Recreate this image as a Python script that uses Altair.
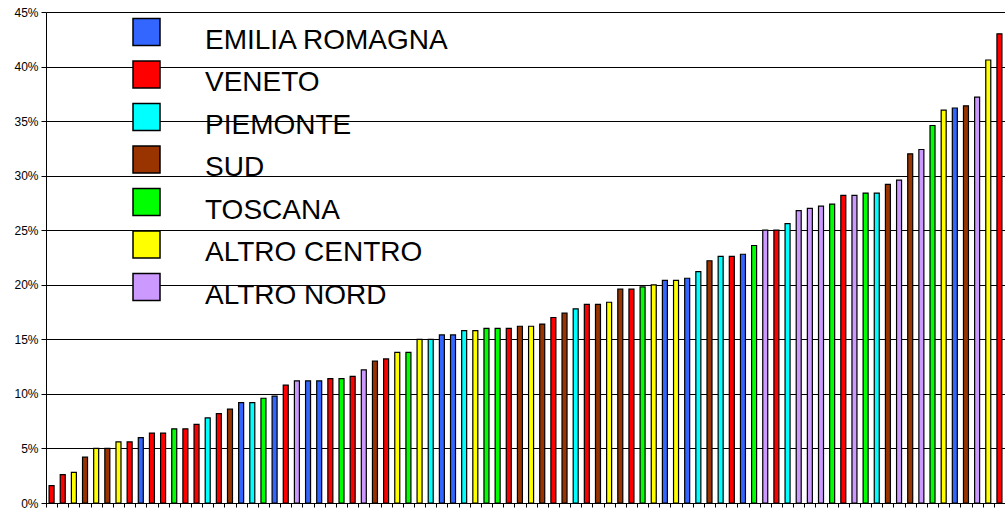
import altair as alt
import pandas as pd

# Legend order and colours
legend_names = ["EMILIA ROMAGNA", "VENETO", "PIEMONTE", "SUD", "TOSCANA", "ALTRO CENTRO", "ALTRO NORD"]
legend_colors = ["#3366FF", "#FF0000", "#00FFFF", "#993300", "#00FF00", "#FFFF00", "#CC99FF"]

# Region code of each bar (left to right)
code_names = {"E": "EMILIA ROMAGNA", "V": "VENETO", "P": "PIEMONTE", "S": "SUD",
              "T": "TOSCANA", "C": "ALTRO CENTRO", "N": "ALTRO NORD"}
bar_codes = [
    "V", "V", "C", "S", "C", "S", "C", "V", "E", "V",
    "V", "T", "V", "V", "P", "V", "S", "E", "P", "T",
    "E", "V", "N", "E", "E", "V", "T", "V", "N", "S",
    "V", "C", "T", "C", "P", "E", "E", "P", "C", "T",
    "T", "V", "S", "C", "S", "V", "S", "P", "V", "S",
    "C", "S", "V", "T", "C", "E", "C", "E", "P", "S",
    "P", "V", "E", "T", "N", "V", "P", "N", "N", "N",
    "T", "V", "N", "T", "P", "S", "N", "S", "N", "T",
    "C", "E", "S", "N", "C", "V",
]
# Bar values in percent
bar_values = [
    1.6, 2.6, 2.8, 4.2, 5.0, 5.0, 5.6, 5.6, 6.0, 6.4,
    6.4, 6.8, 6.8, 7.2, 7.8, 8.2, 8.6, 9.2, 9.2, 9.6,
    9.8, 10.8, 11.2, 11.2, 11.2, 11.4, 11.4, 11.6, 12.2, 13.0,
    13.2, 13.8, 13.8, 15.0, 15.0, 15.4, 15.4, 15.8, 15.8, 16.0,
    16.0, 16.0, 16.2, 16.2, 16.4, 17.0, 17.4, 17.8, 18.2, 18.2,
    18.4, 19.6, 19.6, 19.8, 20.0, 20.4, 20.4, 20.6, 21.2, 22.2,
    22.6, 22.6, 22.8, 23.6, 25.0, 25.0, 25.6, 26.8, 27.0, 27.2,
    27.4, 28.2, 28.2, 28.4, 28.4, 29.2, 29.6, 32.0, 32.4, 34.6,
    36.0, 36.2, 36.4, 37.2, 40.6, 43.0,
]
y_ticks = [0, 0.05, 0.10, 0.15, 0.20, 0.25, 0.30, 0.35, 0.40, 0.45]

df = pd.DataFrame({
    "idx": list(range(1, len(bar_values) + 1)),
    "share": [v / 100 for v in bar_values],
    "region": [code_names[c] for c in bar_codes],
})

# square symbol drawn slightly above the entry centre, so the label sits lower
legend_square = "M-1,-1.63L1,-1.63L1,0.37L-1,0.37Z"

chart = alt.Chart(df).mark_bar(stroke="black", strokeWidth=1.2, size=5).encode(
    x=alt.X("idx:O", sort=None,
            scale=alt.Scale(paddingInner=0, paddingOuter=0),
            axis=alt.Axis(labels=False, title=None, ticks=True, tickSize=4,
                          tickColor="black", tickBand="extent", domainColor="black",
                          grid=False)),
    y=alt.Y("share:Q", scale=alt.Scale(domain=[0, 0.45], nice=False),
            axis=alt.Axis(format="%", values=y_ticks, title=None, tickSize=5,
                          labelPadding=3, labelFontSize=12, labelColor="black",
                          labelFont="Liberation Sans", gridColor="black",
                          gridWidth=1, domainColor="black", tickColor="black")),
    color=alt.Color("region:N",
                    scale=alt.Scale(domain=legend_names, range=legend_colors),
                    legend=alt.Legend(title=None, orient="none", legendX=86, legendY=14,
                                      symbolType=legend_square, symbolSize=729,
                                      symbolStrokeColor="black", symbolStrokeWidth=1.5,
                                      symbolOpacity=1, labelFontSize=28,
                                      labelFont="Liberation Sans", labelColor="black",
                                      labelBaseline="middle",
                                      labelOffset=44, rowPadding=2.5, labelLimit=400,
                                      padding=0)),
).properties(
    width=959, height=491,
    autosize=alt.AutoSizeParams(type="none"),
    padding={"left": 46, "top": 12, "right": 0, "bottom": 9},
    background="white",
).configure_view(stroke=None)

chart.save("out.html", embed_options={"renderer": "svg", "actions": False,
                                      "defaultStyle": "body{margin:0} svg{display:block}"})
